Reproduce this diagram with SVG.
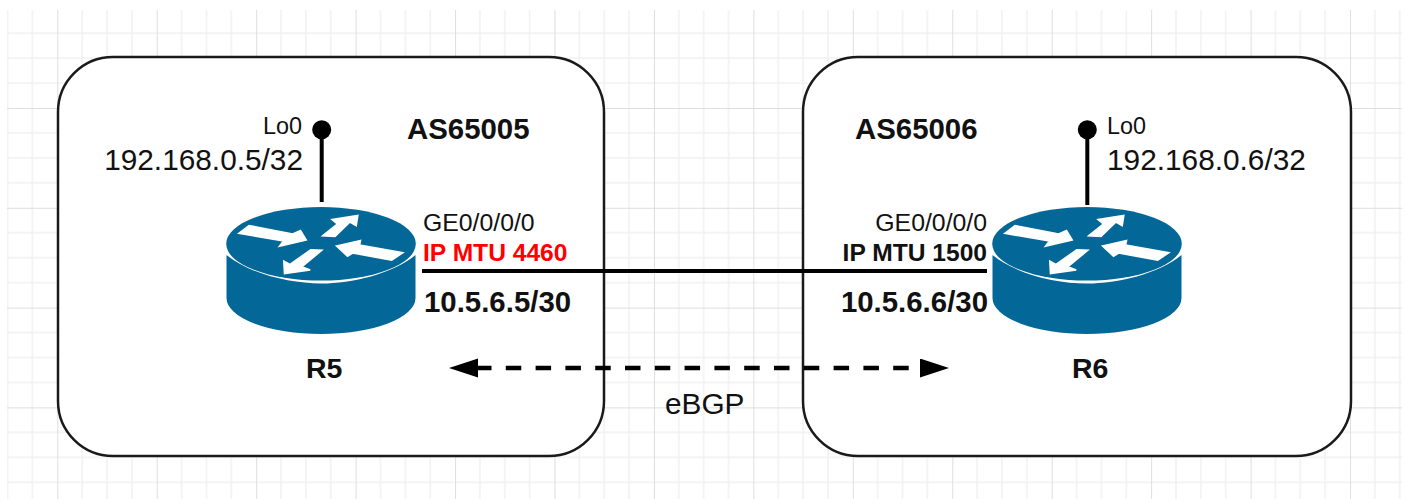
<svg xmlns="http://www.w3.org/2000/svg" width="1406" height="499" viewBox="0 0 1406 499">
<style>
text{font-family:"Liberation Sans",Arial,Helvetica,sans-serif;fill:#111}
.b{font-weight:bold}
.xl{font-size:29.8px}
.xb{font-size:29.4px}
.m{font-size:24.8px}
.mb{font-size:24.6px}
.s{font-size:23.4px}
.e{text-anchor:end}
.as{fill:#fff;stroke:#1a1a1a;stroke-width:2.5}
.stem{stroke:#000;stroke-width:4;fill:none}
</style>
<defs>
<pattern id="grid" patternUnits="userSpaceOnUse" x="57.3" y="8.2" width="99.44" height="99.8">
<path d="M24.86 0V99.8M49.72 0V99.8M74.58 0V99.8M0 24.95H99.44M0 49.9H99.44M0 74.85H99.44" stroke="#f1f1f1" stroke-width="1.5" fill="none"/>
<path d="M0.3 0V99.8M0 0.3H99.44" stroke="#dedede" stroke-width="1.4" fill="none"/>
</pattern>
<marker id="head" markerUnits="userSpaceOnUse" markerWidth="30" markerHeight="20" refX="0" refY="9.5" orient="auto-start-reverse">
<path d="M0 0L29 9.5L0 19Z" fill="#000"/>
</marker>
<g id="router">
<ellipse cx="321" cy="243.8" rx="94.8" ry="36.8" fill="#036897"/>
<path d="M226.5 255C250 274 290 283.5 321 283.5C352 283.5 392 274 415.5 255V298A94.5 36 0 0 1 226.5 298Z" fill="#036897"/>
<g fill="#fff" stroke="#fff" stroke-width="1.6" stroke-linejoin="miter">
<path d="M238.8 233.3L249 225.5L292.7 234L300.5 230.5L306.2 240L279.5 246.2L283.5 241Z"/>
<path d="M322.8 235.7L337.3 224L332 219.6L357.8 215.5L356.2 225.6L350 222L335 236.4Z"/>
<path d="M336.5 246L360.5 240.5L359.5 245L402.8 252.7L391.7 260.2L352.7 253L347.5 256.2Z"/>
<path d="M284.5 273.5L283.8 261.2L290 264.5L310.7 249.8L321.8 250.3L301.7 266.8L310.2 270Z"/>
</g>
</g>
</defs>
<rect width="1406" height="499" fill="#fff"/>
<rect x="7" y="10" width="1395" height="489" fill="url(#grid)"/>
<g id="as65005">
<rect class="as" x="58" y="57" width="546" height="399" rx="55" ry="55"/>
<text class="b xb" x="407" y="139">AS65005</text>
</g>
<g id="as65006">
<rect class="as" x="803" y="57" width="548" height="399" rx="55" ry="55"/>
<text class="b xb" x="855" y="139">AS65006</text>
</g>
<g id="connectors">
<path class="stem" d="M422 271H987"/>
<path d="M478 368H920" fill="none" stroke="#000" stroke-width="4.4" stroke-dasharray="15.5 14.3" stroke-dashoffset="2" marker-start="url(#head)" marker-end="url(#head)"/>
</g>
<g id="r5">
<use href="#router"/>
<path class="stem" d="M321.7 130V202"/>
<circle cx="321.7" cy="129.7" r="9.5" fill="#000"/>
<text class="s e" x="302" y="134">Lo0</text>
<text class="xl e" x="303" y="170">192.168.0.5/32</text>
<text class="m" x="423" y="231">GE0/0/0/0</text>
<text class="mb b" x="423" y="261" style="fill:#f00">IP MTU 4460</text>
<text class="xb b" x="424" y="312">10.5.6.5/30</text>
<text class="b" x="306" y="378" font-size="28.5">R5</text>
</g>
<g id="r6">
<use href="#router" transform="translate(766 0)"/>
<path class="stem" d="M1087.3 130V205"/>
<circle cx="1087.3" cy="129.7" r="9.5" fill="#000"/>
<text class="s" x="1107" y="134">Lo0</text>
<text class="xl" x="1107" y="170">192.168.0.6/32</text>
<text class="m e" x="987" y="231">GE0/0/0/0</text>
<text class="mb b e" x="987" y="261">IP MTU 1500</text>
<text class="xb b e" x="988" y="312">10.5.6.6/30</text>
<text class="b" x="1072" y="378" font-size="28.5">R6</text>
</g>
<g id="ebgp-label">
<text class="xl" x="665" y="414">eBGP</text>
</g>
</svg>
